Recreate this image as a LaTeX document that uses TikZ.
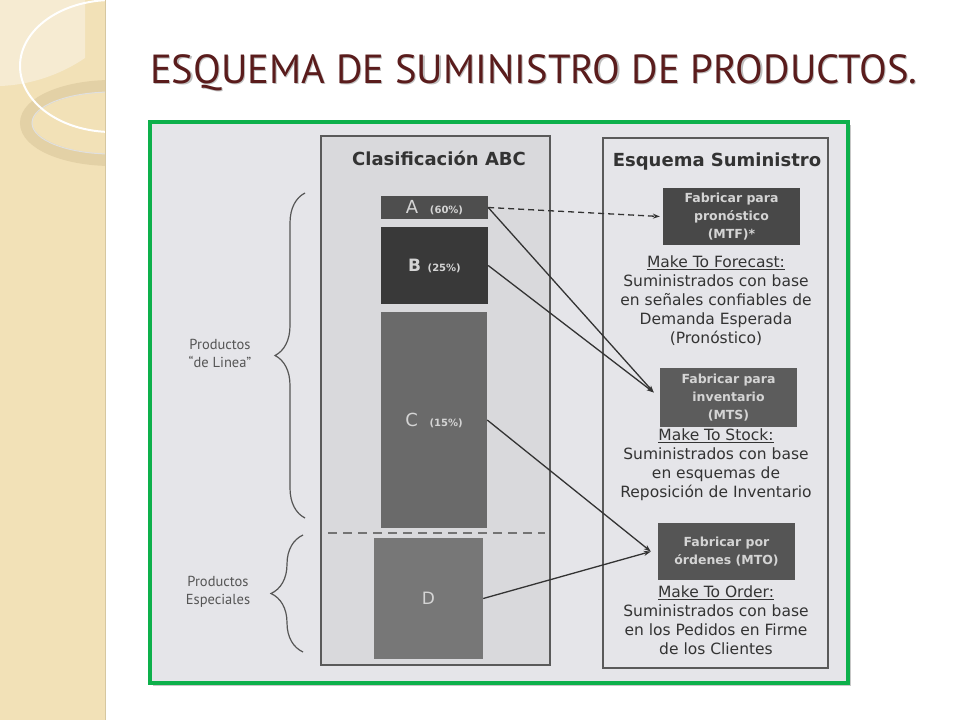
\documentclass[tikz,border=0pt]{standalone}
\usepackage{fontspec}
\setmainfont{DejaVu Sans}
\newfontfamily\ptsans{PT Sans}
\usetikzlibrary{decorations.pathreplacing,arrows.meta,calc}
\definecolor{stripcol}{HTML}{F2E1B7}
\definecolor{striplight}{HTML}{F6EBD2}
\definecolor{stripedge}{HTML}{D6C7A0}
\definecolor{ringcol}{HTML}{E3D1A6}
\definecolor{titlecol}{HTML}{5A1C1C}
\definecolor{framegreen}{HTML}{0DB04B}
\definecolor{framebg}{HTML}{E5E5E9}
\definecolor{colbg}{HTML}{D9D9DC}
\definecolor{boxline}{HTML}{5A5A5A}
\definecolor{inktext}{HTML}{333333}
\definecolor{boxtext}{HTML}{D4D4D4}
\definecolor{Acol}{HTML}{4E4E4E}
\definecolor{Bcol}{HTML}{393939}
\definecolor{Ccol}{HTML}{6A6A6A}
\definecolor{Dcol}{HTML}{777777}
\definecolor{MTFcol}{HTML}{484848}
\definecolor{MTScol}{HTML}{5C5C5C}
\definecolor{MTOcol}{HTML}{555555}
\definecolor{lblcol}{HTML}{555555}
\tikzset{
  abcbox/.style={draw=none, inner sep=0pt, text=boxtext, align=center},
  supbox/.style={draw=none, inner sep=0pt, text=boxtext, align=center,
    minimum width=137pt, font=\bfseries\fontsize{12.5}{18}\selectfont},
  desc/.style={inner sep=0pt, text=inktext, align=center,
    font=\fontsize{15.5}{19}\selectfont, anchor=north},
  coltitle/.style={inner sep=0pt, text=inktext, font=\bfseries\fontsize{18}{20}\selectfont},
  sidelbl/.style={inner sep=0pt, text=lblcol, align=center,
    font=\ptsans\fontsize{14.5}{18}\selectfont},
  conn/.style={draw=inktext, line width=1.3pt, -{Stealth[length=7pt,width=5pt]}},
  bracestyle/.style={draw=lblcol, line width=1.2pt, decorate},
}
\begin{document}
\begin{tikzpicture}[x=1pt,y=-1pt]
\useasboundingbox (0,0) rectangle (960,720);
\fill[white] (0,0) rectangle (960,720);
% left decorative strip
\begin{scope}
\clip (0,0) rectangle (105,720);
\fill[stripcol] (0,0) rectangle (105,720);
\fill[striplight] (0,0) -- (85,0) -- (85,58) .. controls (60,75) and (30,85) .. (0,86) -- cycle;
\draw[ringcol, line width=12pt] (112,123) ellipse [x radius=86, y radius=37];
\draw[black!12, line width=1pt] (112,123) ellipse [x radius=80, y radius=31];
\draw[white, line width=2pt] (112,66) ellipse [x radius=92, y radius=66];
\end{scope}
\draw[stripedge, line width=1pt] (105,0) -- (105,720);
% title
\node[anchor=base west, inner sep=0pt, text=black!25,
  font=\ptsans\fontsize{40.6}{40}\selectfont] (titleshadow) at (151.2,84.2)
  {ESQUEMA DE SUMINISTRO DE PRODUCTOS.};
\node[anchor=base west, inner sep=0pt, text=titlecol,
  font=\ptsans\fontsize{40.6}{40}\selectfont] (title) at (150,83)
  {ESQUEMA DE SUMINISTRO DE PRODUCTOS.};
% frame
\fill[black!22] (153,125) rectangle (851,686);
\filldraw[fill=framebg, draw=framegreen, line width=4pt] (150,122) rectangle (848,683);
% left column
\filldraw[fill=colbg, draw=boxline, line width=1.5pt] (321,136) rectangle (550,665);
\node[coltitle] (abctitle) at (439,158) {Clasificación ABC};
\node[abcbox, fill=Acol, minimum width=107pt, minimum height=23pt] (A) at (434.5,207.5)
  {\fontsize{18}{18}\selectfont A\,\, {\bfseries\fontsize{10}{10}\selectfont (60\%)}};
\node[abcbox, fill=Bcol, minimum width=107pt, minimum height=77pt] (B) at (434.5,265.5)
  {{\bfseries\fontsize{17}{17}\selectfont B}\,\, {\bfseries\fontsize{10}{10}\selectfont (25\%)}};
\node[abcbox, fill=Ccol, minimum width=106pt, minimum height=216pt] (C) at (434,420)
  {\fontsize{18}{18}\selectfont C\,\, {\bfseries\fontsize{10}{10}\selectfont (15\%)}};
\node[abcbox, fill=Dcol, minimum width=109pt, minimum height=121pt] (D) at (428.5,598.5)
  {\fontsize{17}{17}\selectfont D};
\draw[draw=black!55, line width=2pt, dash pattern=on 9pt off 6pt] (328,533) -- (545,533);
% braces
\draw[bracestyle, decoration={brace, amplitude=30pt}] (305,518) -- (305,193);
\draw[bracestyle, decoration={brace, amplitude=32pt}] (303,652) -- (303,535);
\node[sidelbl] (lin) at (220,353) {Productos\\“de Linea”};
\node[sidelbl] (esp) at (218,592) {Productos\\Especiales};
% right column
\draw[draw=boxline, line width=1.5pt] (603,138) rectangle (828,668);
\node[coltitle] (suptitle) at (717,162) {Esquema Suministro};
\node[supbox, fill=MTFcol, minimum height=57pt] (MTF) at (731.5,216.5)
  {Fabricar para\\pronóstico\\(MTF)*};
\node[supbox, fill=MTScol, minimum height=59pt] (MTS) at (728.5,397.5)
  {Fabricar para\\inventario\\(MTS)};
\node[supbox, fill=MTOcol, minimum height=57pt] (MTO) at (726.5,551.5)
  {Fabricar por\\órdenes (MTO)};
\node[desc] (mtfdesc) at (716,256)
  {\underline{Make To Forecast:}\\Suministrados con base\\en señales confiables de\\Demanda Esperada\\(Pronóstico)};
\node[desc] (mtsdesc) at (716,429)
  {\underline{Make To Stock:}\\Suministrados con base\\en esquemas de\\Reposición de Inventario};
\node[desc] (mtodesc) at (716,586)
  {\underline{Make To Order:}\\Suministrados con base\\en los Pedidos en Firme\\de los Clientes};
% connectors
\draw[conn, dashed, dash pattern=on 6pt off 4pt] (A.east) -- ([xshift=-3pt]MTF.west);
\draw[conn] (A.east) -- ([xshift=-6pt,yshift=5pt]MTS.west);
\draw[conn] (B.east) -- ([xshift=-6pt,yshift=5pt]MTS.west);
\draw[conn] (C.east) -- ([xshift=-7pt]MTO.west);
\draw[conn] (D.east) -- ([xshift=-7pt]MTO.west);
\end{tikzpicture}
\end{document}
